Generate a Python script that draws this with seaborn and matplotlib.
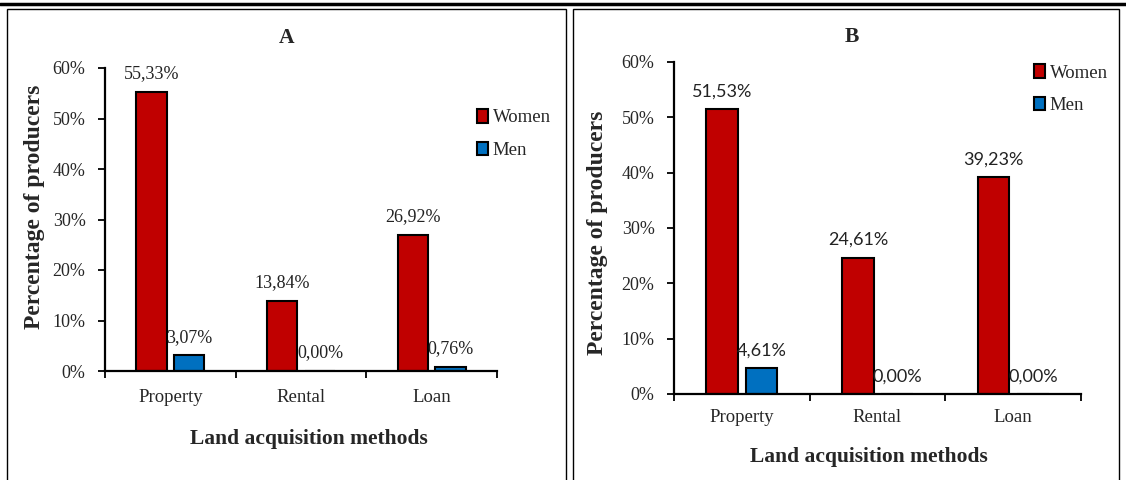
import pandas as pd
import seaborn as sns
import matplotlib.pyplot as plt
from matplotlib.patches import Patch, Rectangle
from matplotlib.lines import Line2D
from matplotlib.ticker import FuncFormatter, FixedLocator

# data
methods = ['Property', 'Rental', 'Loan']
groups = ['Women', 'Men']
women_a = [55.33, 13.84, 26.92]
men_a = [3.07, 0.00, 0.76]
women_b = [51.53, 24.61, 39.23]
men_b = [4.61, 0.00, 0.00]
yticks = [0, 10, 20, 30, 40, 50, 60]

colors = {'Women': '#C00000', 'Men': '#0070C0'}

sns.set_style('ticks')
plt.rcParams['font.family'] = ['Liberation Serif', 'DejaVu Serif']


def make_df(women, men):
    rows = []
    for m, w, h in zip(methods, women, men):
        rows.append({'method': m, 'sex': 'Women', 'value': w})
        rows.append({'method': m, 'sex': 'Men', 'value': h})
    return pd.DataFrame(rows)


def draw_panel(ax, women, men, title, label_font, label_size, tick_pad, ylab_xy, xlab_xy, title_xy):
    df = make_df(women, men)
    sns.barplot(data=df, x='method', y='value', hue='sex', order=methods,
                hue_order=groups, palette=colors, saturation=1, width=0.58, gap=0.2,
                edgecolor='black', linewidth=1.5, legend=False, ax=ax)
    for cont in ax.containers:
        labels = [f"{b.get_height():.2f}%".replace('.', ',') for b in cont]
        ax.bar_label(cont, labels=labels, padding=7, fontsize=label_size,
                     family=label_font, color='#222222')
    ax.set_ylim(0, 60)
    ax.set_xlim(-0.5, 2.5)
    ax.set_yticks(yticks)
    ax.yaxis.set_major_formatter(FuncFormatter(lambda v, p: f"{v:.0f}%"))
    ax.tick_params(axis='y', labelsize=13, length=5, width=1.3, pad=9, color='black')
    # category ticks between groups, labels at centres
    ax.xaxis.set_major_locator(FixedLocator([-0.5, 0.5, 1.5, 2.5]))
    ax.xaxis.set_minor_locator(FixedLocator([0, 1, 2]))
    ax.set_xticklabels([], minor=False)
    ax.set_xticklabels(methods, minor=True)
    ax.tick_params(axis='x', which='major', length=5, width=1.3, color='black')
    ax.tick_params(axis='x', which='minor', length=0, labelsize=13.5, pad=tick_pad)
    for s in ['top', 'right']:
        ax.spines[s].set_visible(False)
    for s in ['left', 'bottom']:
        ax.spines[s].set_linewidth(1.6)
        ax.spines[s].set_color('black')
    ax.set_ylabel('Percentage of producers', fontsize=17, fontweight='bold')
    ax.yaxis.set_label_coords(*ylab_xy)
    ax.set_xlabel('Land acquisition methods', fontsize=15.5, fontweight='bold')
    ax.xaxis.set_label_coords(*xlab_xy)
    ax.text(title_xy[0], title_xy[1], title, transform=ax.transAxes,
            ha='center', va='center', fontsize=15.5, fontweight='bold')


fig = plt.figure(figsize=(11.26, 4.8), dpi=100)

ax1 = fig.add_axes([105 / 1126, 109 / 480, 392 / 1126, 303 / 480])
ax2 = fig.add_axes([674 / 1126, 86 / 480, 407 / 1126, 332 / 480])

draw_panel(ax1, women_a, men_a, 'A', ['Liberation Serif'], 13, 13,
           (-0.153, 0.541), (0.52, -0.19), (0.464, 1.099))
draw_panel(ax2, women_b, men_b, 'B', ['Lato', 'DejaVu Sans'], 13, 11,
           (-0.162, 0.485), (0.479, -0.159), (0.437, 1.075))

handles = [Patch(facecolor=colors[g], edgecolor='black', linewidth=1.5, label=g) for g in groups]
fig.legend(handles=handles, loc='center left', bbox_to_anchor=(477 / 1126, 1 - 134 / 480),
           frameon=False, fontsize=13.5, handlelength=0.6, handleheight=0.7,
           handletextpad=0.25, labelspacing=0.8, borderpad=0, borderaxespad=0)
fig.legend(handles=handles, loc='center left', bbox_to_anchor=(1034 / 1126, 1 - 89 / 480),
           frameon=False, fontsize=13.5, handlelength=0.6, handleheight=0.7,
           handletextpad=0.25, labelspacing=0.8, borderpad=0, borderaxespad=0)

# page frame: thick top rule and the two panel boxes
fig.add_artist(Line2D([0, 1], [1 - 4 / 480, 1 - 4 / 480], color='black', lw=2.5,
                      transform=fig.transFigure))
fig.add_artist(Rectangle((7 / 1126, -0.05), (566 - 7) / 1126, 1.05 - 9 / 480,
                         fill=False, edgecolor='black', lw=1, transform=fig.transFigure))
fig.add_artist(Rectangle((573 / 1126, -0.05), (1119 - 573) / 1126, 1.05 - 9 / 480,
                         fill=False, edgecolor='black', lw=1, transform=fig.transFigure))

plt.savefig('out.png', dpi=100)
